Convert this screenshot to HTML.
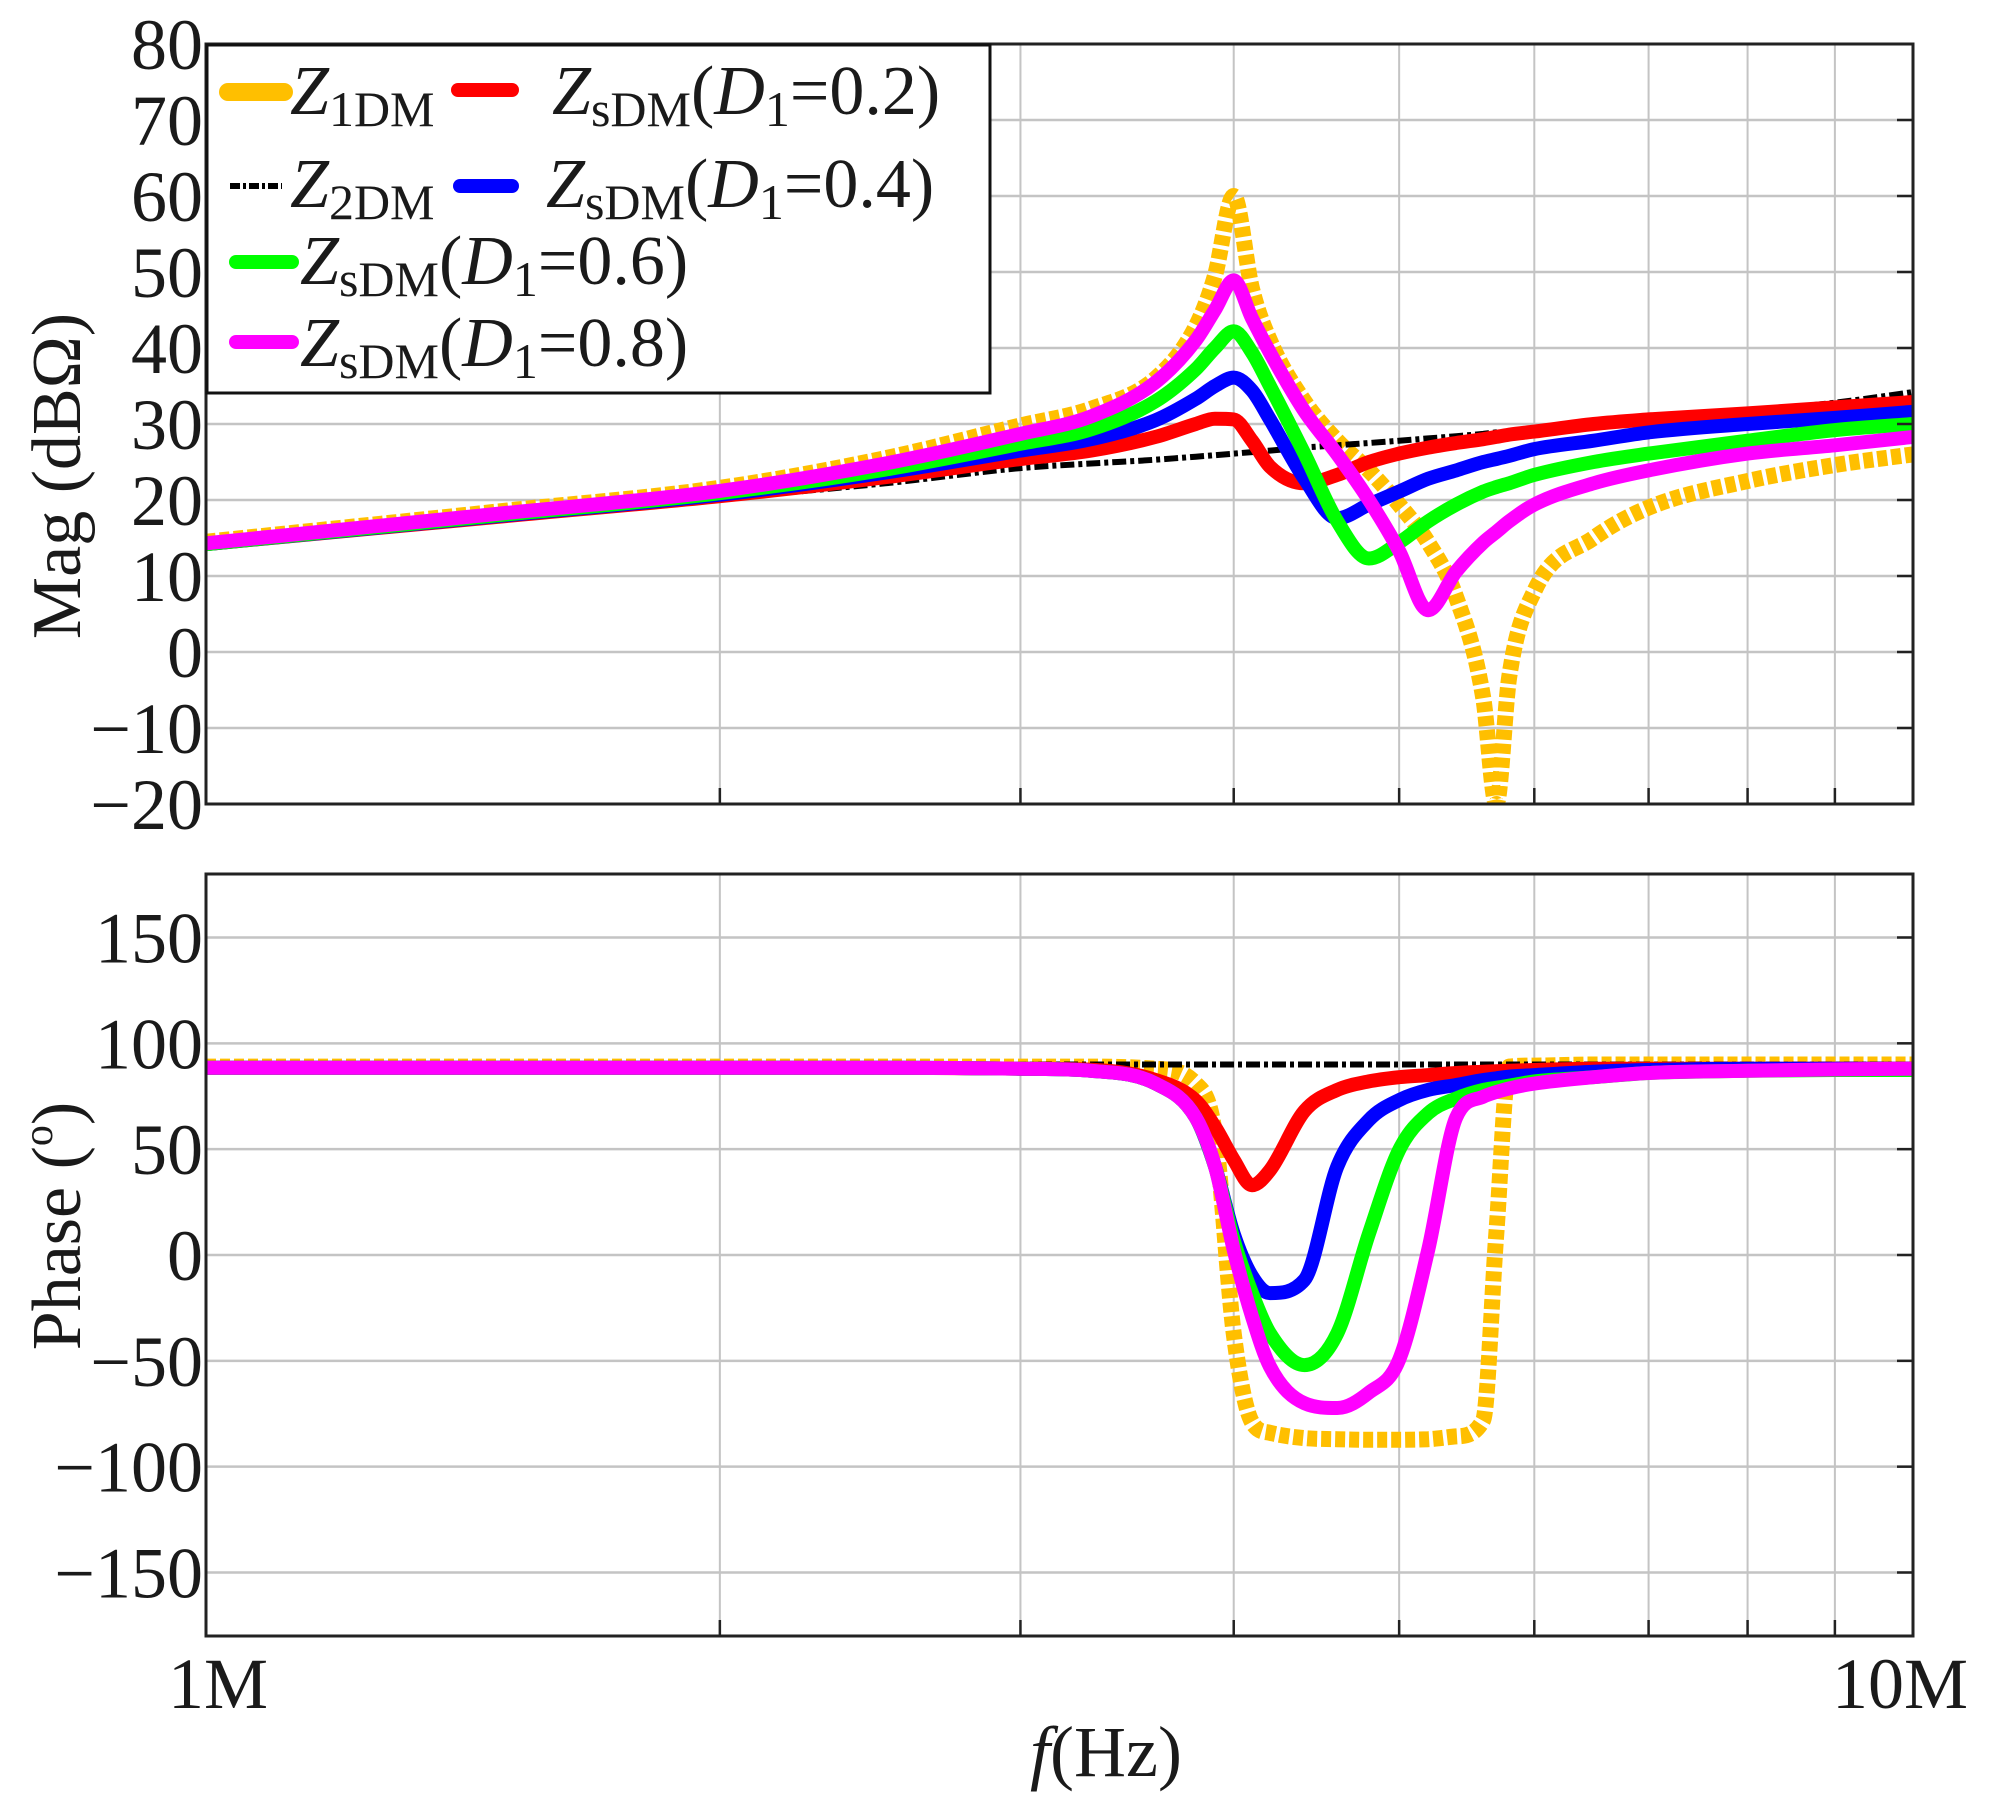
<!DOCTYPE html>
<html><head><meta charset="utf-8"><style>
html,body{margin:0;padding:0;background:#fff;}
svg{display:block;}
text{font-family:"Liberation Serif",serif;fill:#1a1a1a;}
</style></head><body>
<svg id="chart" width="1989" height="1805" viewBox="0 0 1989 1805" xmlns="http://www.w3.org/2000/svg">
<defs>
<clipPath id="clipMag"><rect x="206" y="44" width="1707" height="760"/></clipPath>
<clipPath id="clipPh"><rect x="206" y="874" width="1707" height="762"/></clipPath>
</defs>
<g id="grid"></g>
<g id="series"></g>
<g id="axes"></g>
<g id="legend">
<rect x="207" y="45" width="783" height="348" fill="#fff" stroke="#111" stroke-width="3"/>
<line x1="228" y1="92" x2="284" y2="92" stroke="#FFBF00" stroke-width="18" stroke-linecap="round"/>
<text x="290" y="114" font-size="70"><tspan font-style="italic">Z</tspan><tspan font-size="50" dy="12">1DM</tspan></text>
<line x1="458" y1="90" x2="512" y2="90" stroke="#FF0000" stroke-width="14" stroke-linecap="round"/>
<text x="552" y="114" font-size="70"><tspan font-style="italic">Z</tspan><tspan font-size="50" dy="12">sDM</tspan><tspan dy="-12">(</tspan><tspan font-style="italic">D</tspan><tspan font-size="50" dy="12">1</tspan><tspan dy="-12">=0.2)</tspan></text>
<line x1="230" y1="186" x2="282" y2="186" stroke="#000" stroke-width="6" stroke-dasharray="10 3 3 3"/>
<text x="290" y="207" font-size="70"><tspan font-style="italic">Z</tspan><tspan font-size="50" dy="12">2DM</tspan></text>
<line x1="460" y1="186" x2="512" y2="186" stroke="#0000FF" stroke-width="14" stroke-linecap="round"/>
<text x="546" y="207" font-size="70"><tspan font-style="italic">Z</tspan><tspan font-size="50" dy="12">sDM</tspan><tspan dy="-12">(</tspan><tspan font-style="italic">D</tspan><tspan font-size="50" dy="12">1</tspan><tspan dy="-12">=0.4)</tspan></text>
<line x1="236" y1="262" x2="292" y2="262" stroke="#00FF00" stroke-width="14" stroke-linecap="round"/>
<text x="300" y="284" font-size="70"><tspan font-style="italic">Z</tspan><tspan font-size="50" dy="12">sDM</tspan><tspan dy="-12">(</tspan><tspan font-style="italic">D</tspan><tspan font-size="50" dy="12">1</tspan><tspan dy="-12">=0.6)</tspan></text>
<line x1="236" y1="342" x2="292" y2="342" stroke="#FF00FF" stroke-width="14" stroke-linecap="round"/>
<text x="300" y="366" font-size="70"><tspan font-style="italic">Z</tspan><tspan font-size="50" dy="12">sDM</tspan><tspan dy="-12">(</tspan><tspan font-style="italic">D</tspan><tspan font-size="50" dy="12">1</tspan><tspan dy="-12">=0.8)</tspan></text>
</g>
<text x="0" y="0" font-size="70" text-anchor="middle" transform="translate(80,476) rotate(-90)">Mag (dBΩ)</text>
<text x="0" y="0" font-size="70" text-anchor="middle" transform="translate(80,1226) rotate(-90)">Phase (<tspan font-size="42" dy="-28">o</tspan><tspan dy="28">)</tspan></text>
<text x="1106" y="1776" font-size="72" text-anchor="middle"><tspan font-style="italic">f</tspan>(Hz)</text>
<text x="218" y="1708" font-size="72" text-anchor="middle">1M</text>
<text x="1900" y="1708" font-size="72" text-anchor="middle">10M</text>
</svg>
<script>
const freqs = [1,1.5,2,2.5,3,3.3,3.6,3.8,3.9,4,4.1,4.2,4.4,4.6,4.8,5,5.2,5.4,5.6,5.7,5.8,6,6.5,7,8,9,10];
const magZ1 = [14.5,18.6,21.6,25.5,29.8,32,36,42.8,49.5,60,47.8,41,33,27.8,23.9,19.4,14.4,7.2,-6,-20,-3.3,8,15,19,22.5,24.6,26];
const magZ2 = [14.2,17.7,20.2,22.2,24.2,24.8,25.3,25.7,25.9,26.1,26.3,26.5,26.9,27.2,27.5,27.8,28.1,28.4,28.7,28.9,29.0,29.4,30,30.6,31.7,32.8,34.2];
const magD02 = [14.2,17.9,20.5,23.0,25.4,26.5,28.3,30.0,30.7,30.6,27.8,24.4,22.2,23.3,25.0,26.1,26.9,27.5,28.0,28.3,28.6,29.0,30.0,30.6,31.4,32.2,32.9];
const magD04 = [14.2,18.0,20.7,23.6,26.5,28.0,30.5,33.3,35.0,36.1,34.4,30.6,22.8,17.6,19.4,21.1,22.8,23.9,25.0,25.4,25.8,26.7,27.8,28.9,30.0,30.8,31.6];
const magD06 = [14.2,18.1,20.9,24.0,27.4,29.3,33.0,37.2,40.0,42.2,39.4,35.0,26.1,17.2,12.3,14.4,17.2,19.4,21.1,21.7,22.2,23.3,25.0,26.1,27.8,29.2,30.0];
const magD08 = [14.3,18.3,21.2,24.8,28.7,31.0,35.5,41.0,45.0,48.9,43.9,39.4,31.7,26.0,20.0,13.3,5.5,10.6,14.4,15.8,17.2,19.4,22.2,23.9,26.1,27.2,28.3];
const phZ1 = [89,89,89,89,89,89,88,81,57.5,-37,-79,-84,-86.5,-87,-87.3,-87.3,-87,-85.7,-78,10,89,89.5,90,90,90,90,90];
const phZ2 = [90,90,90,90,90,90,90,90,90,90,90,90,90,90,90,90,90,90,90,90,90,90,90,90,90,90,90];
const phD02 = [88.5,88.5,88.5,88.5,88,87.5,82.7,73,60.6,45,33,40,68,78,82,84,85,86,86.6,86.8,87,87.4,88,88,88,88,88];
const phD04 = [88.5,88.5,88.5,88.5,88,87,81,65,42,10,-10,-18,-11.8,41.8,63.8,73.2,78,80.3,82.7,83.5,84.3,85,86.6,87.4,88,88,88];
const phD06 = [88.5,88.5,88.5,88.5,88,87,81,65,42,7,-18,-37,-52,-37,10,49.6,67,74,78,79,80,82,84,86,87,87.4,87.4];
const phD08 = [88.5,88.5,88.5,88.5,88,87,81,65,42,2.4,-29,-52.7,-70,-72.3,-65,-49.5,2.4,65,74.8,77,78.7,81,84,86,87,87.7,88];
const magTicks = [80,70,60,50,40,30,20,10,0,-10,-20];
const phTicks = [150,100,50,0,-50,-100,-150];
const minorFreqs = [2,3,4,5,6,7,8,9];

const NS = "http://www.w3.org/2000/svg";
const X0 = 206, X1 = 1913;
const xs = f => X0 + (X1 - X0) * Math.log10(f);
const yMag = v => 804 - (v + 20) / 100 * 760;
const yPh = v => 1636 - (v + 180) / 360 * 762;
function mk(tag, attrs, parent){ const e = document.createElementNS(NS, tag); for (const k in attrs) e.setAttribute(k, attrs[k]); parent.appendChild(e); return e; }
const grid = document.getElementById('grid'), axes = document.getElementById('axes'), series = document.getElementById('series');

[[44,804],[874,1636]].forEach(([t,b]) => {
  minorFreqs.forEach(f => {
    const l = mk('line', {x1: xs(f), x2: xs(f), y1: t, y2: b, stroke: '#c4c4c4', 'stroke-width': 2}, grid);
    
    
    const tk = mk('line', {x1: xs(f), x2: xs(f), y1: b - 16, y2: b, stroke: '#222', 'stroke-width': 2.5}, axes);
    
    
  });
});
magTicks.forEach(v => {
  const y = yMag(v);
  if (v < 80 && v > -20) {
    const l = mk('line', {x1: X0, x2: X1, y1: y, y2: y, stroke: '#c4c4c4', 'stroke-width': 2.5}, grid);
    
    
    const tk = mk('line', {x1: X1 - 16, x2: X1, y1: y, y2: y, stroke: '#222', 'stroke-width': 2.5}, axes);
    
    
  }
  const t = mk('text', {x: 203, y: y + 25, 'font-size': 72, 'text-anchor': 'end'}, axes);
  t.textContent = (v < 0 ? '\u2212' + (-v) : String(v));
  
  
});
phTicks.forEach(v => {
  const y = yPh(v);
  const l = mk('line', {x1: X0, x2: X1, y1: y, y2: y, stroke: '#c4c4c4', 'stroke-width': 2.5}, grid);
  
  
  const tk = mk('line', {x1: X1 - 16, x2: X1, y1: y, y2: y, stroke: '#222', 'stroke-width': 2.5}, axes);
  
  
  const t = mk('text', {x: 203, y: y + 25, 'font-size': 72, 'text-anchor': 'end'}, axes);
  t.textContent = (v < 0 ? '\u2212' + (-v) : String(v));
  
  
});
const f1 = mk('rect', {x: X0, y: 44, width: X1 - X0, height: 760, fill: 'none', stroke: '#222', 'stroke-width': 3}, axes);


const f2 = mk('rect', {x: X0, y: 874, width: X1 - X0, height: 762, fill: 'none', stroke: '#222', 'stroke-width': 3}, axes);



// monotone cubic (Fritsch-Carlson) to avoid overshoot
function smoothPath(vals, yf){
  const p = freqs.map((f, i) => [xs(f), yf(vals[i])]);
  const n = p.length, d = [], m = [];
  for (let i = 0; i < n - 1; i++) d.push((p[i+1][1] - p[i][1]) / (p[i+1][0] - p[i][0]));
  m[0] = d[0]; m[n-1] = d[n-2];
  for (let i = 1; i < n - 1; i++) m[i] = (d[i-1] * d[i] <= 0) ? 0 : (d[i-1] + d[i]) / 2;
  for (let i = 0; i < n - 1; i++) {
    if (d[i] === 0) { m[i] = 0; m[i+1] = 0; continue; }
    const a = m[i] / d[i], b = m[i+1] / d[i], s = a*a + b*b;
    if (s > 9) { const t = 3 / Math.sqrt(s); m[i] = t*a*d[i]; m[i+1] = t*b*d[i]; }
  }
  let s = 'M' + p[0][0].toFixed(1) + ',' + p[0][1].toFixed(1);
  for (let i = 0; i < n - 1; i++) {
    const h = (p[i+1][0] - p[i][0]) / 3;
    s += 'C' + (p[i][0] + h).toFixed(1) + ',' + (p[i][1] + m[i]*h).toFixed(1) + ' ' + (p[i+1][0] - h).toFixed(1) + ',' + (p[i+1][1] - m[i+1]*h).toFixed(1) + ' ' + p[i+1][0].toFixed(1) + ',' + p[i+1][1].toFixed(1);
  }
  return s;
}
const styles = {
  z1: {stroke: '#FFBF00', 'stroke-width': 16, 'stroke-dasharray': '10 4'},
  z2: {stroke: '#000', 'stroke-width': 6, 'stroke-dasharray': '14 4 4 4'},
  d02: {stroke: '#FF0000', 'stroke-width': 14},
  d04: {stroke: '#0000FF', 'stroke-width': 14},
  d06: {stroke: '#00FF00', 'stroke-width': 14},
  d08: {stroke: '#FF00FF', 'stroke-width': 14}
};
const magSeries = [['z1', magZ1], ['z2', magZ2], ['d02', magD02], ['d04', magD04], ['d06', magD06], ['d08', magD08]];
const phSeries = [['z1', phZ1], ['z2', phZ2], ['d02', phD02], ['d04', phD04], ['d06', phD06], ['d08', phD08]];
const gm = mk('g', {'clip-path': 'url(#clipMag)'}, series);


magSeries.forEach(([k, v]) => {
  const a = Object.assign({d: smoothPath(v, yMag), fill: 'none', 'stroke-linejoin': 'round'}, styles[k]);
  const p = mk('path', a, gm);
  
  
});
const gp = mk('g', {'clip-path': 'url(#clipPh)'}, series);


phSeries.forEach(([k, v]) => {
  const a = Object.assign({d: smoothPath(v, yPh), fill: 'none', 'stroke-linejoin': 'round'}, styles[k]);
  const p = mk('path', a, gp);
  
  
});
</script>
</body></html>
